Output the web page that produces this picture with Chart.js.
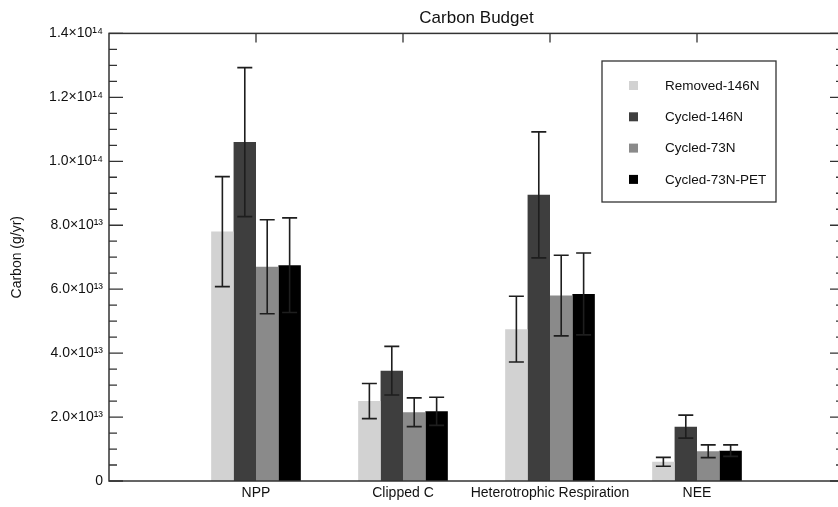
<!DOCTYPE html>
<html>
<head>
<meta charset="utf-8">
<script src="https://cdn.jsdelivr.net/npm/chart.js@4.4.1/dist/chart.umd.min.js"></script>
<style>
  html, body { margin: 0; padding: 0; background: #fff; overflow: hidden; }
  /* a little wider than the window: the right frame edge sits just off-screen */
  #wrap { width: 844px; height: 507px; }
</style>
</head>
<body>
<div id="wrap"><canvas id="myChart"></canvas></div>
<script>
const categories = ["NPP", "Clipped C", "Heterotrophic Respiration", "NEE"];
const seriesNames = ["Removed-146N", "Cycled-146N", "Cycled-73N", "Cycled-73N-PET"];

const removed146N = [7.8e13, 2.5e13, 4.75e13, 0.6e13];
const cycled146N = [10.6e13, 3.45e13, 8.95e13, 1.7e13];
const cycled73N = [6.7e13, 2.15e13, 5.8e13, 0.93e13];
const cycled73NPET = [6.75e13, 2.18e13, 5.85e13, 0.95e13];

const removed146NErr = [1.72e13, 0.55e13, 1.03e13, 0.14e13];
const cycled146NErr = [2.33e13, 0.76e13, 1.97e13, 0.36e13];
const cycled73NErr = [1.47e13, 0.45e13, 1.26e13, 0.2e13];
const cycled73NPETErr = [1.48e13, 0.44e13, 1.28e13, 0.18e13];

const yTicks = [0, 2e13, 4e13, 6e13, 8e13, 10e13, 12e13, 14e13];
const yTickLabels = ["0", "2.0×10¹³", "4.0×10¹³", "6.0×10¹³", "8.0×10¹³", "1.0×10¹⁴", "1.2×10¹⁴", "1.4×10¹⁴"];

const colors = ["#d2d2d2", "#3e3e3e", "#8a8a8a", "#000000"];
const font = "'Liberation Sans', Arial, Helvetica, sans-serif";
const axisColor = "#333";

// empty slots at both ends so the groups sit away from the frame
const labels = ["", ...categories, ""];
const pad = (arr) => [null, ...arr, null];

const values = [removed146N, cycled146N, cycled73N, cycled73NPET];
const errors = [removed146NErr, cycled146NErr, cycled73NErr, cycled73NPETErr];

const frame = {
  id: "frame",
  afterDatasetsDraw(chart) {
    const ctx = chart.ctx;
    const x = chart.scales.x;
    const y = chart.scales.y;
    const a = chart.chartArea;
    ctx.save();

    // error bars
    ctx.strokeStyle = "#1e1e1e";
    ctx.lineWidth = 1.6;
    chart.data.datasets.forEach((ds, i) => {
      chart.getDatasetMeta(i).data.forEach((bar, j) => {
        const v = ds.data[j];
        if (v == null) return;
        const top = y.getPixelForValue(v + ds.errors[j]);
        const bot = y.getPixelForValue(v - ds.errors[j]);
        ctx.beginPath();
        ctx.moveTo(bar.x, top); ctx.lineTo(bar.x, bot);
        ctx.moveTo(bar.x - 7.5, top); ctx.lineTo(bar.x + 7.5, top);
        ctx.moveTo(bar.x - 7.5, bot); ctx.lineTo(bar.x + 7.5, bot);
        ctx.stroke();
      });
    });

    // frame
    ctx.strokeStyle = axisColor;
    ctx.lineWidth = 1.5;
    ctx.strokeRect(a.left, a.top, a.right - a.left, a.bottom - a.top);

    // y ticks, major and minor, on both sides pointing in
    ctx.lineWidth = 1.3;
    ctx.beginPath();
    yTicks.forEach((t, k) => {
      const py = y.getPixelForValue(t);
      ctx.moveTo(a.left, py); ctx.lineTo(a.left + 14, py);
      ctx.moveTo(a.right, py); ctx.lineTo(a.right - 14, py);
      if (k < yTicks.length - 1) {
        for (let m = 1; m < 4; m++) {
          const my = y.getPixelForValue(t + (yTicks[k + 1] - t) * m / 4);
          ctx.moveTo(a.left, my); ctx.lineTo(a.left + 8, my);
          ctx.moveTo(a.right, my); ctx.lineTo(a.right - 8, my);
        }
      }
    });
    // x ticks on the top edge
    categories.forEach((c, k) => {
      const px = x.getPixelForValue(k + 1);
      ctx.moveTo(px, a.top); ctx.lineTo(px, a.top + 9);
    });
    ctx.stroke();
    ctx.restore();
  },
  afterDraw(chart) {
    const ctx = chart.ctx;
    ctx.save();
    const left = 602, top = 61, w = 174, h = 141;
    ctx.strokeStyle = axisColor;
    ctx.lineWidth = 1.3;
    ctx.strokeRect(left, top, w, h);
    ctx.font = "13.5px " + font;
    ctx.textBaseline = "middle";
    chart.data.datasets.forEach((ds, i) => {
      const cy = top + 25 + i * 31.3;
      ctx.fillStyle = ds.backgroundColor;
      ctx.fillRect(left + 27, cy - 5, 9, 9);
      ctx.fillStyle = "#111";
      ctx.fillText(ds.label, left + 63, cy);
    });
    ctx.restore();
  }
};

new Chart(document.getElementById("myChart").getContext("2d"), {
  type: "bar",
  data: {
    labels: labels,
    datasets: seriesNames.map((name, i) => ({
      label: name,
      data: pad(values[i]),
      errors: pad(errors[i]),
      backgroundColor: colors[i],
      borderWidth: 0,
      categoryPercentage: 0.61,
      barPercentage: 1.0,
    })),
  },
  options: {
    responsive: true,
    maintainAspectRatio: false,
    animation: false,
    layout: { padding: 0 },
    plugins: {
      legend: { display: false },
      tooltip: { enabled: false },
      title: {
        display: true,
        fullSize: false,
        text: "Carbon Budget",
        color: "#111",
        font: { family: font, size: 17, weight: "normal" },
        padding: { top: 8, bottom: 5 },
      },
    },
    scales: {
      x: {
        offset: false,
        grid: { display: false, drawTicks: false },
        border: { display: false },
        ticks: {
          color: "#111",
          font: { family: font, size: 14 },
          padding: 4,
          maxRotation: 0,
          autoSkip: false,
        },
        afterFit: (s) => { s.height = 26; s.paddingLeft = 0; s.paddingRight = 0; },
      },
      y: {
        min: 0,
        max: 14e13,
        grid: { display: false, drawTicks: false },
        border: { display: false },
        afterBuildTicks: (s) => { s.ticks = yTicks.map((v) => ({ value: v })); },
        ticks: {
          color: "#111",
          font: { family: font, size: 14 },
          padding: 6,
          callback: (v, i) => yTickLabels[i],
        },
        title: {
          display: true,
          text: "Carbon (g/yr)",
          color: "#111",
          font: { family: font, size: 14 },
          padding: { top: 9, bottom: 0 },
        },
        afterFit: (s) => { s.width = 109; },
      },
    },
  },
  plugins: [frame],
});
</script>
</body>
</html>
